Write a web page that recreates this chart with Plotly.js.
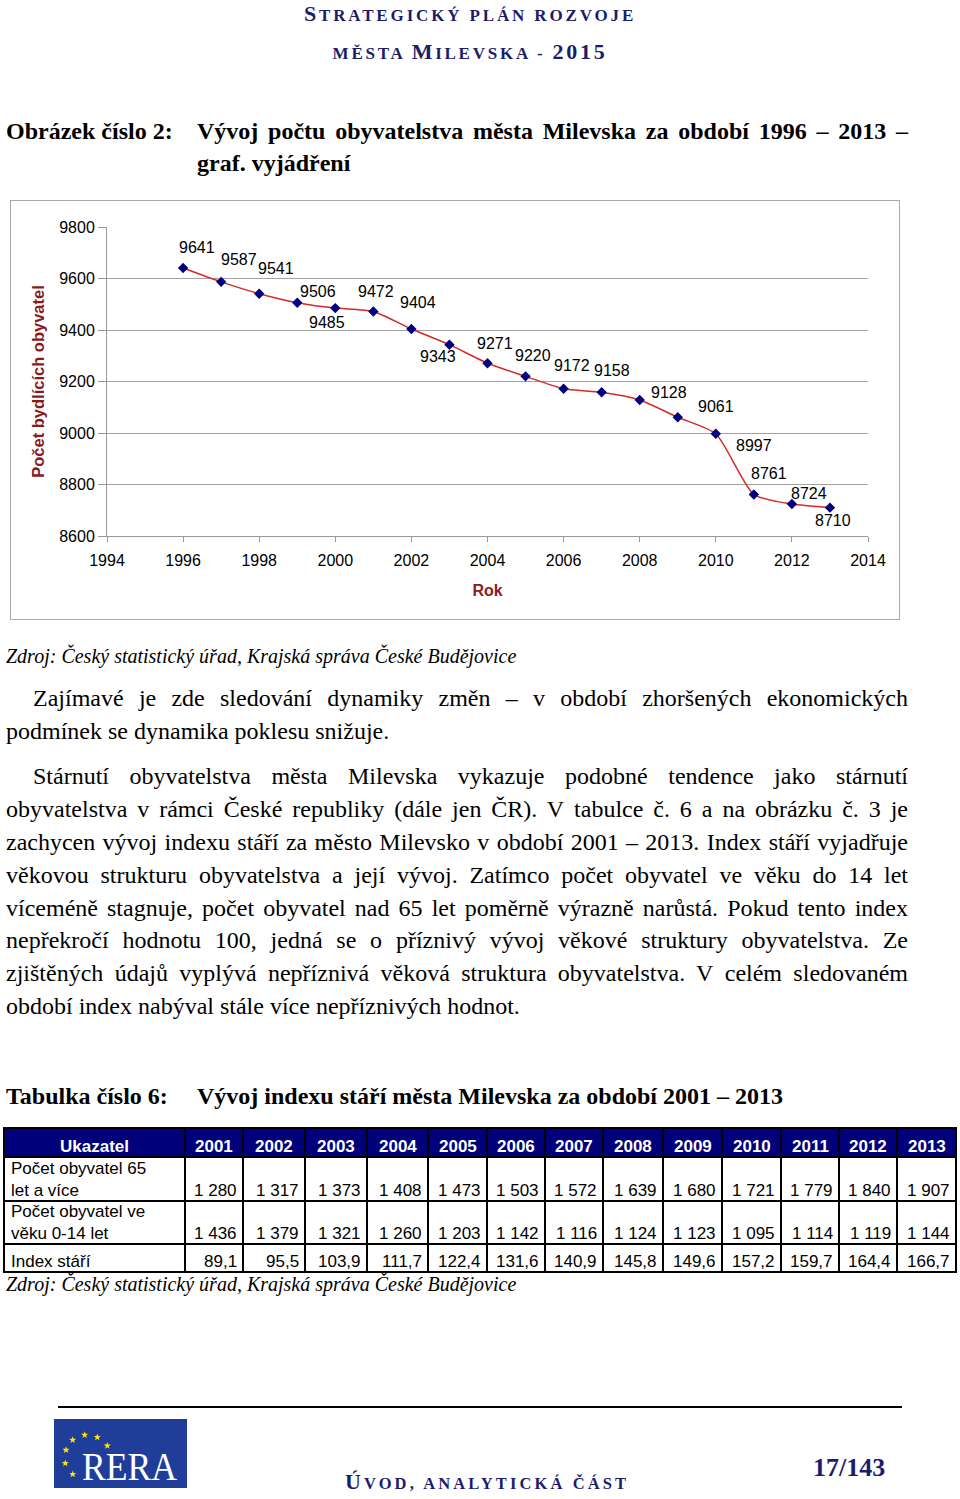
<!DOCTYPE html>
<html><head><meta charset="utf-8">
<script src="https://cdn.plot.ly/plotly-3.0.1.min.js"></script>
<style>
html,body{margin:0;padding:0;background:#fff;}
#page{position:relative;width:960px;height:1499px;overflow:hidden;background:#fff;font-family:"Liberation Serif","Times New Roman",serif;color:#000;}
.ln{position:absolute;white-space:nowrap;}
.jl{position:absolute;text-align:justify;text-align-last:justify;}
.body{font-size:24px;height:33px;line-height:33px;}
.hdr{font-weight:bold;color:#1c1c6b;text-align:center;left:0;width:940px;font-size:17px;height:30px;line-height:30px;}
.big{font-size:22px;}
.ttl{font-weight:bold;font-size:24px;height:32px;line-height:32px;}
.src{font-style:italic;font-size:20px;height:28px;line-height:28px;}
#chartBox{position:absolute;left:10px;top:200px;width:890px;height:420px;border:1px solid #a8a8a8;box-sizing:border-box;}
#chart{position:absolute;left:0;top:0;}
#table{position:absolute;left:0;top:1120px;}
</style>
</head><body>
<div id="page">
  <div class="ln hdr" style="top:-1px;letter-spacing:2.85px;"><span class="big">S</span>TRATEGICKÝ PLÁN ROZVOJE</div>
  <div class="ln hdr" style="top:37px;letter-spacing:2.75px;">MĚSTA <span class="big">M</span>ILEVSKA - <span class="big">2015</span></div>

  <div class="ln ttl" style="left:6px;top:115px;">Obrázek číslo 2:</div>
  <div class="jl ttl" style="left:197px;top:115px;width:711px;">Vývoj počtu obyvatelstva města Milevska za období 1996 – 2013 –</div>
  <div class="ln ttl" style="left:197px;top:147px;">graf. vyjádření</div>

  <div id="chartBox"><div id="chart"></div></div>

  <div class="ln src" style="left:6px;top:642px;">Zdroj: Český statistický úřad, Krajská správa České Budějovice</div>

  <div class="jl body" style="left:33px;width:875px;top:682px;">Zajímavé je zde sledování dynamiky změn – v&nbsp;období zhoršených ekonomických</div>
  <div class="ln body" style="left:6px;top:715px;">podmínek se dynamika poklesu snižuje.</div>

  <div class="jl body" style="left:33px;width:875px;top:760px;">Stárnutí obyvatelstva města Milevska vykazuje podobné tendence jako stárnutí</div>
  <div class="jl body" style="left:6px;width:902px;top:793px;">obyvatelstva v&nbsp;rámci České republiky (dále jen ČR). V&nbsp;tabulce č. 6 a na obrázku č. 3 je</div>
  <div class="jl body" style="left:6px;width:902px;top:826px;">zachycen vývoj indexu stáří za město Milevsko v&nbsp;období 2001 – 2013. Index stáří vyjadřuje</div>
  <div class="jl body" style="left:6px;width:902px;top:859px;">věkovou strukturu obyvatelstva a její vývoj. Zatímco počet obyvatel ve věku do 14 let</div>
  <div class="jl body" style="left:6px;width:902px;top:892px;">víceméně stagnuje, počet obyvatel nad 65 let poměrně výrazně narůstá. Pokud tento index</div>
  <div class="jl body" style="left:6px;width:902px;top:924px;">nepřekročí hodnotu 100, jedná se o příznivý vývoj věkové struktury obyvatelstva. Ze</div>
  <div class="jl body" style="left:6px;width:902px;top:957px;">zjištěných údajů vyplývá nepříznivá věková struktura obyvatelstva. V&nbsp;celém sledovaném</div>
  <div class="ln body" style="left:6px;top:990px;">období index nabýval stále více nepříznivých hodnot.</div>

  <div class="ln ttl" style="left:6px;top:1080px;">Tabulka číslo 6:</div>
  <div class="ln ttl" style="left:197px;top:1080px;">Vývoj indexu stáří města Milevska za období 2001 – 2013</div>

  <div id="table"></div>

  <div class="ln src" style="left:6px;top:1270px;">Zdroj: Český statistický úřad, Krajská správa České Budějovice</div>

  <div style="position:absolute;left:58px;top:1406px;width:844px;height:2px;background:#000;"></div>
  <svg id="logo" style="position:absolute;left:54px;top:1419px;" width="133" height="69" viewBox="0 0 133 69">
    <rect x="0" y="0" width="133" height="69" fill="#1f3d99"/>
    <g id="stars" fill="#ffe600"></g>
  </svg>
  <div class="ln" style="left:82px;top:1443px;height:46px;line-height:46px;font-size:41px;color:#fff;transform:scaleX(0.87);transform-origin:0 50%;">RERA</div>
  <div class="ln" style="left:345px;top:1467px;font-weight:bold;color:#1c1c6b;font-size:16.5px;letter-spacing:3.1px;height:30px;line-height:30px;"><span style="font-size:22px;">Ú</span>VOD, ANALYTICKÁ ČÁST</div>
  <div class="ln" style="left:813px;top:1453px;font-weight:bold;color:#1c1c6b;font-size:26px;height:30px;line-height:30px;">17/143</div>
</div>

<script>
// ---------- chart data ----------
const years = [1996,1997,1998,1999,2000,2001,2002,2003,2004,2005,2006,2007,2008,2009,2010,2011,2012,2013];
const population = [9641,9587,9541,9506,9485,9472,9404,9343,9271,9220,9172,9158,9128,9061,8997,8761,8724,8710];
// label offsets (px, screen right / down)
const labelDx = [14,18,17,21,-8,3,7,-11,7,7,8,10,29,38,38,15,17,3];
const labelDy = [-20,-22,-25,-11,14,-20,-26,12,-20,-21,-23,-22,-8,-11,12,-21,-11,13];

// ---------- table data ----------
const tableHeaderLabel = "Ukazatel";
const tableYears = [2001,2002,2003,2004,2005,2006,2007,2008,2009,2010,2011,2012,2013];
const rowLabels = ["Počet obyvatel 65<br>let a více","Počet obyvatel ve<br>věku 0-14 let","Index stáří"];
const seniors65 = [1280,1317,1373,1408,1473,1503,1572,1639,1680,1721,1779,1840,1907];
const children014 = [1436,1379,1321,1260,1203,1142,1116,1124,1123,1095,1114,1119,1144];
const ageIndex = [89.1,95.5,103.9,111.7,122.4,131.6,140.9,145.8,149.6,157.2,159.7,164.4,166.7];

// ---------- chart ----------
const sans = "Liberation Sans, Arial, sans-serif";
const annotations = years.map((y,i)=>({
  x:y, y:population[i], xref:'x', yref:'y', text:String(population[i]), showarrow:false,
  xshift:labelDx[i], yshift:-labelDy[i], font:{family:sans,size:16,color:'#000'}
}));
Plotly.newPlot('chart',[{
  x:years, y:population, type:'scatter', mode:'lines+markers',
  line:{color:'#d42a2a',width:1.5,shape:'spline',smoothing:0.6},
  marker:{symbol:'diamond',size:8,color:'#000080'},
  hoverinfo:'skip'
}],{
  width:888,height:418,
  margin:{l:96,r:31,t:26,b:83},
  paper_bgcolor:'#fff',plot_bgcolor:'#fff',
  font:{family:sans,size:16,color:'#000'},
  showlegend:false,
  xaxis:{range:[1994,2014],tick0:1994,dtick:2,tickformat:'d',showgrid:false,zeroline:false,showline:true,
    linecolor:'#999',linewidth:1,ticks:'outside',ticklen:5,tickcolor:'#999',ticklabelstandoff:5,
    tickfont:{family:sans,size:16,color:'#000'},
    title:{text:'<b>Rok</b>',font:{family:sans,size:16,color:'#8b1a1a'},standoff:16}},
  yaxis:{range:[8600,9800],tick0:8600,dtick:200,tickformat:'d',showgrid:true,gridcolor:'#a3a3a3',gridwidth:1,
    zeroline:false,showline:true,linecolor:'#999',linewidth:1,ticks:'outside',ticklen:8,tickcolor:'#999',
    tickfont:{family:sans,size:16,color:'#000'},
    title:{text:'<b>Počet bydlících obyvatel</b>',font:{family:sans,size:16.5,color:'#8b1a1a'},standoff:10}},
  annotations:annotations
},{staticPlot:true,displayModeBar:false});

// ---------- table ----------
const colWidths = [181,58,62,62,61,59,58,58,60,59,59,58,58,59];
const rowHeights = [29,44,43,28];
const tableLeft = 4, tableTop = 1128;
const colEdges=[tableLeft]; colWidths.forEach(w=>colEdges.push(colEdges[colEdges.length-1]+w));
const rowEdges=[tableTop]; rowHeights.forEach(h=>rowEdges.push(rowEdges[rowEdges.length-1]+h));
const fmtInt = v => { const s=String(v); return s.length>3 ? s.slice(0,s.length-3)+'\u00a0'+s.slice(-3) : s; };
const fmtDec = v => v.toFixed(1).replace('.',',');
const rowsValues = [seniors65.map(fmtInt), children014.map(fmtInt), ageIndex.map(fmtDec)];
const tShapes=[], tAnn=[];
tShapes.push({type:'rect',xref:'x',yref:'y',x0:colEdges[0],x1:colEdges[colEdges.length-1],y0:rowEdges[0],y1:rowEdges[1],fillcolor:'#00007a',line:{width:0}});
rowEdges.forEach(y=>tShapes.push({type:'line',xref:'x',yref:'y',x0:colEdges[0]-1,x1:colEdges[colEdges.length-1]+1,y0:y,y1:y,line:{color:'#000',width:2}}));
colEdges.forEach(x=>tShapes.push({type:'line',xref:'x',yref:'y',x0:x,x1:x,y0:rowEdges[0],y1:rowEdges[rowEdges.length-1],line:{color:'#000',width:2}}));
const fontT = {family:sans,size:17,color:'#000'};
const headers = [tableHeaderLabel].concat(tableYears.map(String));
headers.forEach((h,c)=>tAnn.push({x:(colEdges[c]+colEdges[c+1])/2,y:rowEdges[1]-11,xref:'x',yref:'y',text:'<b>'+h+'</b>',showarrow:false,xanchor:'center',yanchor:'middle',font:{family:sans,size:17,color:'#fff'}}));
rowLabels.forEach((lab,r)=>{
  const multi = lab.indexOf('<br>')>=0;
  tAnn.push({x:colEdges[0]+5,y:multi?(rowEdges[r+1]+rowEdges[r+2])/2:rowEdges[r+2]-11,xref:'x',yref:'y',text:lab,showarrow:false,xanchor:'left',yanchor:'middle',align:'left',font:fontT});
  rowsValues[r].forEach((v,c)=>tAnn.push({x:colEdges[c+2]-4,y:rowEdges[r+2]-11,xref:'x',yref:'y',text:v,showarrow:false,xanchor:'right',yanchor:'middle',font:fontT}));
});
Plotly.newPlot('table',[],{
  width:960,height:160,margin:{l:0,r:0,t:0,b:0},
  paper_bgcolor:'rgba(0,0,0,0)',plot_bgcolor:'rgba(0,0,0,0)',
  xaxis:{range:[0,960],visible:false,fixedrange:true},
  yaxis:{range:[1280,1120],visible:false,fixedrange:true},
  shapes:tShapes,annotations:tAnn,showlegend:false
},{staticPlot:true,displayModeBar:false});

// ---------- logo stars ----------
const starPos = [[18.7,21],[30.7,16],[43.3,18.3],[53.3,26.7],[12,31],[11.3,44.3],[18.7,55.3]];
const g = document.getElementById('stars');
starPos.forEach(([cx,cy])=>{
  let pts=[];
  for(let k=0;k<10;k++){const r=k%2?1.5:3.8;const a=-Math.PI/2+k*Math.PI/5;pts.push((cx+r*Math.cos(a)).toFixed(2)+','+(cy+r*Math.sin(a)).toFixed(2));}
  const p=document.createElementNS('http://www.w3.org/2000/svg','polygon');
  p.setAttribute('points',pts.join(' '));g.appendChild(p);
});
</script>
</body></html>
